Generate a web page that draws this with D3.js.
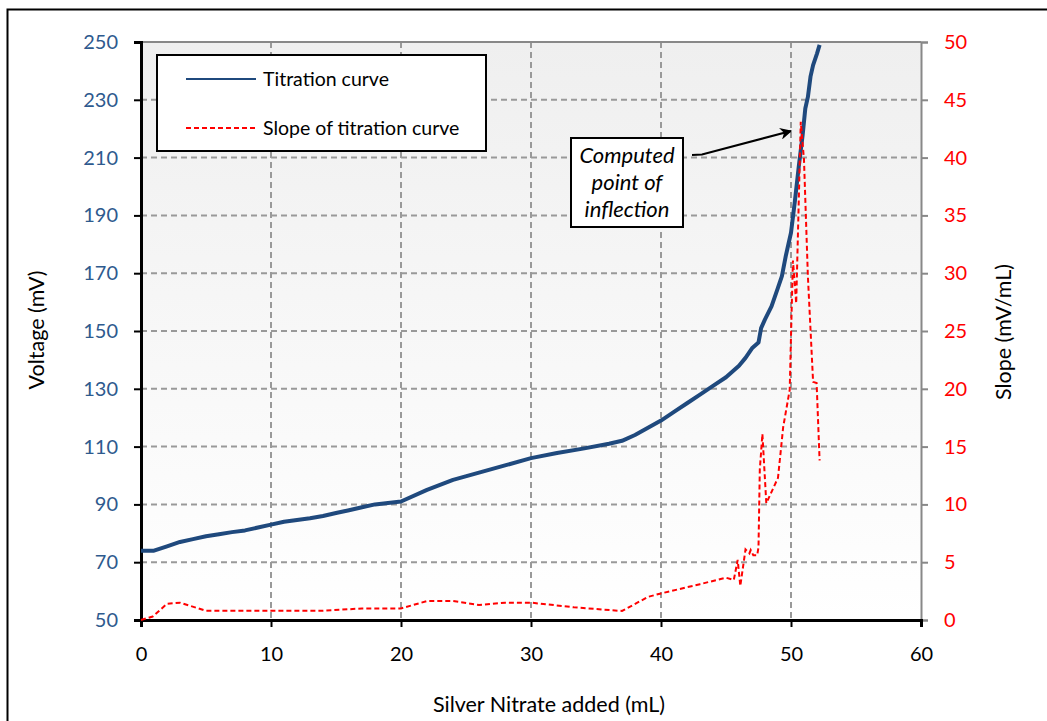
<!DOCTYPE html>
<html><head><meta charset="utf-8">
<script src="https://cdn.jsdelivr.net/npm/d3@7"></script>
<style>body{margin:0;background:#fff}svg{display:block}text{font-family:Lato,"Open Sans",sans-serif}</style>
</head><body><svg id="c" width="1047" height="721"></svg>
<script>
const xTicks = [0,10,20,30,40,50,60];
const vTicks = [50,70,90,110,130,150,170,190,210,230,250];
const sTicks = [0,5,10,15,20,25,30,35,40,45,50];

const titrX = [0,1,2,3,4,5,6,7,8,9,10,11,12,13,14,15,16,17,18,19,20,22,24,26,28,30,32,34,36,37,38,39,40,41,42,43,44,45,46,46.5,47,47.5,47.7,48,48.5,49,49.3,49.6,49.8,50,50.3,50.6,50.9,51.1,51.3,51.5,51.7,52,52.2];
const titrV = [74,74,75.5,77,78,79,79.7,80.4,81,82,83,84,84.6,85.2,86,87,88,89,90,90.5,91,95,98.5,101,103.5,106,107.8,109.3,111,112,114,116.5,119,122,125,128,131,134,138,140.7,144,146,151,154,158.5,165,169,176,180,184,195,207,218,227,231,238,242,246,249];

const slopeX = [0,0.9,2,3,5,10,14,17,20,22,24,26,28,30,33.3,37,39,40,43,45,45.6,45.9,46.1,46.5,46.8,46.9,47.1,47.4,47.5,47.6,47.8,48.1,49.0,49.4,49.9,50.05,50.15,50.4,50.75,51.0,51.3,51.7,51.97,52.2];
const slopeV = [0,0.3,1.4,1.5,0.8,0.8,0.8,1.0,1.0,1.64,1.64,1.3,1.5,1.5,1.1,0.78,2.0,2.3,3.1,3.66,3.46,5.2,2.94,6.1,5.76,6.05,5.6,5.6,6.3,13,16.1,10.1,12.3,16.7,19.9,26.8,31.1,27.4,43.1,39.8,29.7,20.6,20.5,13.8];

const seriesNames = ["Titration curve","Slope of titration  curve"];
const noteLines = ["Computed","point of","inflection"];

const svg = d3.select("#c");
const L=141,R=921,T=42,B=620;
const x = d3.scaleLinear().domain([0,60]).range([L,R]);
const yV = d3.scaleLinear().domain([50,250]).range([B,T]);
const yS = d3.scaleLinear().domain([0,50]).range([B,T]);

// outer frame
svg.append("rect").attr("x",7.5).attr("y",9.5).attr("width",1100).attr("height",800)
  .attr("fill","none").attr("stroke","#000").attr("stroke-width",2);

const defs = svg.append("defs");
const g = defs.append("linearGradient").attr("id","bg").attr("x1",0).attr("y1",0).attr("x2",0).attr("y2",1);
g.append("stop").attr("offset","0%").attr("stop-color","#efefef");
g.append("stop").attr("offset","100%").attr("stop-color","#ffffff");
svg.append("rect").attr("x",L).attr("y",T).attr("width",R-L).attr("height",B-T).attr("fill","url(#bg)");

// grid
const grid = svg.append("g").attr("stroke","#999").attr("stroke-width",2).attr("stroke-dasharray","6,4");
vTicks.slice(1,-1).forEach(v=>grid.append("line").attr("x1",L).attr("x2",R).attr("y1",yV(v)).attr("y2",yV(v)));
xTicks.slice(1,-1).forEach(v=>grid.append("line").attr("y1",T).attr("y2",B).attr("x1",x(v)).attr("x2",x(v)));

// top border & right axis
svg.append("line").attr("x1",L).attr("x2",R).attr("y1",T).attr("y2",T).attr("stroke","#888").attr("stroke-width",2);

const axL = svg.append("g").attr("transform",`translate(${L},0)`)
  .call(d3.axisLeft(yV).tickValues(vTicks).tickSize(7).tickPadding(16));
axL.select(".domain").attr("stroke","#000").attr("stroke-width",3);
axL.selectAll(".tick line").attr("stroke","#000").attr("stroke-width",2);
axL.selectAll("text").attr("fill","#2e5a8e").style("font-size","20px");

const axR = svg.append("g").attr("transform",`translate(${R},0)`)
  .call(d3.axisRight(yS).tickValues(sTicks).tickSize(7).tickPadding(16));
axR.select(".domain").attr("stroke","#888").attr("stroke-width",2);
axR.selectAll(".tick line").attr("stroke","#888").attr("stroke-width",2);
axR.selectAll("text").attr("fill","#ff0000").style("font-size","20px");

const axB = svg.append("g").attr("transform",`translate(0,${B})`)
  .call(d3.axisBottom(x).tickValues(xTicks).tickSize(7).tickPadding(20));
axB.select(".domain").attr("stroke","#000").attr("stroke-width",3);
axB.selectAll(".tick line").attr("stroke","#000").attr("stroke-width",2);
axB.selectAll("text").attr("fill","#000").style("font-size","20px");

// series
const lineT = d3.line().x((d,i)=>x(titrX[i])).y(d=>yV(d));
svg.append("path").attr("d",lineT(titrV)).attr("fill","none").attr("stroke","#1f497d").attr("stroke-width",4).attr("stroke-linejoin","round");
const lineS = d3.line().x((d,i)=>x(slopeX[i])).y(d=>yS(d));
svg.append("path").attr("d",lineS(slopeV)).attr("fill","none").attr("stroke","#ff0000").attr("stroke-width",2).attr("stroke-dasharray","5,3");

// axis titles
svg.append("text").attr("x",549).attr("y",712).attr("text-anchor","middle").style("font-size","21.5px").attr("fill","#000").text("Silver Nitrate added (mL)");
svg.append("text").attr("transform","translate(44,330) rotate(-90)").attr("text-anchor","middle").style("font-size","21.5px").text("Voltage (mV)");
svg.append("text").attr("transform","translate(1011,332) rotate(-90)").attr("text-anchor","middle").style("font-size","21.5px").text("Slope (mV/mL)");

// legend
const lg = svg.append("g");
lg.append("rect").attr("x",157).attr("y",55).attr("width",329).attr("height",96).attr("fill","#fff").attr("stroke","#000").attr("stroke-width",2);
lg.append("line").attr("x1",186).attr("x2",256).attr("y1",79).attr("y2",79).attr("stroke","#1f497d").attr("stroke-width",2);
lg.append("line").attr("x1",186).attr("x2",256).attr("y1",128).attr("y2",128).attr("stroke","#ff0000").attr("stroke-width",2).attr("stroke-dasharray","5,3");
lg.append("text").attr("x",263).attr("y",86).style("font-size","19.5px").text(seriesNames[0]);
lg.append("text").attr("x",263).attr("y",135).style("font-size","19.5px").text(seriesNames[1]);

// annotation
const an = svg.append("g");
an.append("rect").attr("x",571).attr("y",138).attr("width",112).attr("height",89).attr("fill","#fff").attr("stroke","#000").attr("stroke-width",2);
noteLines.forEach((t,i)=>an.append("text").attr("x",627).attr("y",163+i*27).attr("text-anchor","middle")
  .style("font-size","22px").style("font-style","italic").text(t));
defs.append("marker").attr("id","arr").attr("viewBox","0 0 10 10").attr("refX",9).attr("refY",5)
  .attr("markerWidth",6).attr("markerHeight",6).attr("orient","auto")
  .append("path").attr("d","M0,0 L10,5 L0,10 L3,5 Z").attr("fill","#000");
an.append("path").attr("d","M692,155 L702,154.5 L791,131").attr("fill","none").attr("stroke","#000").attr("stroke-width",2).attr("marker-end","url(#arr)");
</script></body></html>
